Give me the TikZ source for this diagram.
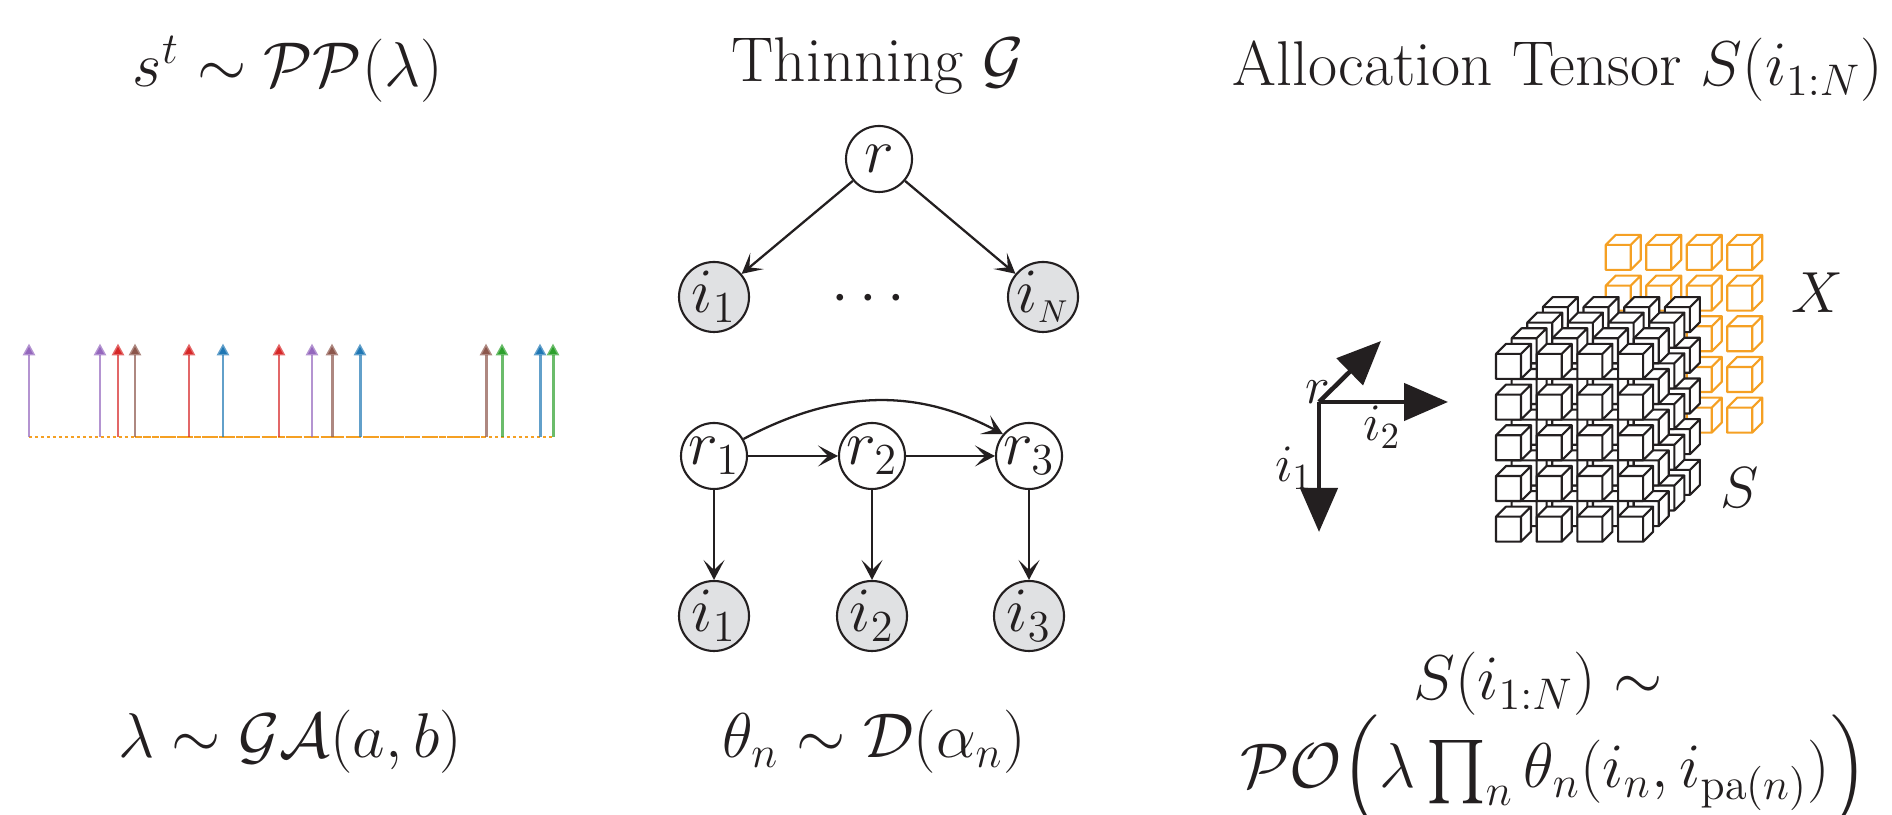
\documentclass[tikz,border=0pt]{standalone}
\usepackage{fix-cm}
\usepackage{amsmath,amssymb}
\usepackage{tikz}
\usetikzlibrary{arrows.meta,positioning}
\definecolor{tabpurple}{RGB}{148,103,189}
\definecolor{tabred}{RGB}{214,39,40}
\definecolor{tabbrown}{RGB}{140,86,75}
\definecolor{tabblue}{RGB}{31,119,180}
\definecolor{tabgreen}{RGB}{44,160,44}
\definecolor{taborange}{RGB}{245,160,35}
\definecolor{obsgray}{RGB}{224,225,227}
\definecolor{inkblack}{RGB}{35,31,32}
\newcommand{\cubeat}[3]{\draw[#1] (#2,#3) rectangle ++(0.25,0.25) ++(-0.25,0) -- ++(0.10,0.10) -- ++(0.25,0) -- ++(-0.10,-0.10) -- cycle ++(0.25,0) -- ++(0.10,0.10) -- ++(0,-0.25) -- ++(-0.10,-0.10) -- cycle;}
\begin{document}
\begin{tikzpicture}[font=\fontsize{18}{22}\selectfont,color=inkblack,
	hid/.style={circle,draw,fill=white,line width=0.6pt,minimum size=6.6mm,inner sep=-1pt},
	obs/.style={circle,draw,fill=obsgray,line width=0.6pt,minimum size=7mm,inner sep=-1pt},
	dep/.style={-{Stealth[length=2mm,width=2.1mm,inset=1mm]},line width=0.65pt},
	axis/.style={-{Triangle[length=4.4mm,width=3.7mm]},line width=1.3pt},
	axislabel/.style={font=\fontsize{15}{18}\selectfont,inner sep=0pt},
	cubelabel/.style={font=\fontsize{16.5}{20}\selectfont,inner sep=0pt},
	spike/.style={-{Triangle[length=1.2mm,width=1.2mm]},line width=0.85pt,draw opacity=0.7},
	blackcube/.style={draw=inkblack,fill=white,line width=0.6pt,line join=round},
	orangecube/.style={draw=taborange,fill=white,line width=0.6pt,line join=round}]
	\useasboundingbox (0,0) rectangle (18.92,8.15);

	\node (t1) at (2.88,7.46) {$s^t \sim \mathcal{PP}(\lambda)$};
	\node (t2) at (8.78,7.49) {Thinning $\mathcal{G}$};
	\node (t3) at (15.58,7.45) {Allocation Tensor $S(i_{1:N})$};
	\node (b1) at (2.90,0.73) {$\lambda \sim \mathcal{GA}(a,b)$};
	\node (b2) at (8.74,0.73) {$\theta_n \sim \mathcal{D}(\alpha_n)$};
	\node (b3) at (15.38,1.31) {$S(i_{1:N}) \sim$};
	\node (b4) at (15.54,0.43) {$\mathcal{PO}\Bigl(\lambda\prod_n \theta_n(i_n,i_{\mathrm{pa}(n)})\Bigr)$};

	\draw[taborange,line width=0.6pt,dash pattern=on 0.85pt off 0.85pt] (0.29,3.78)--(5.53,3.78);
	\draw[taborange,line width=0.7pt,dash pattern=on 2pt off 0.4pt] (1.35,3.78)--(4.86,3.78);
	\foreach \x/\c [count=\k] in {0.29/tabpurple,1.00/tabpurple,1.18/tabred,1.35/tabbrown,1.89/tabred,2.23/tabblue,2.79/tabred,3.12/tabpurple,3.32/tabbrown,3.60/tabblue,4.86/tabbrown,5.02/tabgreen,5.40/tabblue,5.53/tabgreen}{
		\coordinate (s\k) at (\x,3.78);
		\coordinate (e\k) at (\x,4.715);
		\draw[spike,\c] (s\k)--(e\k);
	}

	\node[hid] (r) at (8.79,6.56) {$r$};
	\node[obs] (a1) at (7.14,5.18) {$i_1$};
	\node[obs] (aN) at (10.43,5.18) {$i_{\scriptscriptstyle N}$};
	\node (dots) at (8.74,5.16) {$\cdots$};
	\draw[dep] (r)--(a1); \draw[dep] (r)--(aN);

	\node[hid] (r1) at (7.14,3.59) {$r_1$};
	\node[hid] (r2) at (8.72,3.59) {$r_2$};
	\node[hid] (r3) at (10.29,3.59) {$r_3$};
	\node[obs] (c1) at (7.14,1.99) {$i_1$};
	\node[obs] (c2) at (8.72,1.99) {$i_2$};
	\node[obs] (c3) at (10.29,1.99) {$i_3$};
	\draw[dep] (r1)--(r2); \draw[dep] (r2)--(r3);
	\draw[dep] (r1)--(c1); \draw[dep] (r2)--(c2); \draw[dep] (r3)--(c3);
	\draw[dep] (r1.30) to[out=28,in=152] (r3.140);

	\coordinate (o) at (13.19,4.13);
	\coordinate (d1) at (13.19,2.83);
	\coordinate (d2) at (14.48,4.13);
	\coordinate (d3) at (13.81,4.74);
	\draw[axis] (o)--(d1); \draw[axis] (o)--(d2); \draw[axis] (o)--(d3);
	\node[axislabel] (lr) at (13.18,4.23) {$r$};
	\node[axislabel] (l2) at (13.82,3.88) {$i_2$};
	\node[axislabel] (l1) at (12.94,3.47) {$i_1$};

	\foreach \c in {0,...,3}{
		\foreach \w in {0,...,4}{
			\pgfmathsetmacro{\px}{16.057+0.405*\c}
			\pgfmathsetmacro{\py}{3.823+0.407*\w}
			\cubeat{orangecube}{\px}{\py}
		}
	}
	\foreach \k in {3,2,1,0}{
		\foreach \w in {4,...,0}{
			\foreach \c in {0,...,3}{
				\pgfmathsetmacro{\px}{14.96+0.407*\c+0.156*\k}
				\pgfmathsetmacro{\py}{2.733+0.407*\w+0.156*\k}
				\cubeat{blackcube}{\px}{\py}
			}
		}
	}
	\node[cubelabel] (x) at (18.17,5.22) {$X$};
	\node[cubelabel] (s) at (17.40,3.27) {$S$};
\end{tikzpicture}
\end{document}
